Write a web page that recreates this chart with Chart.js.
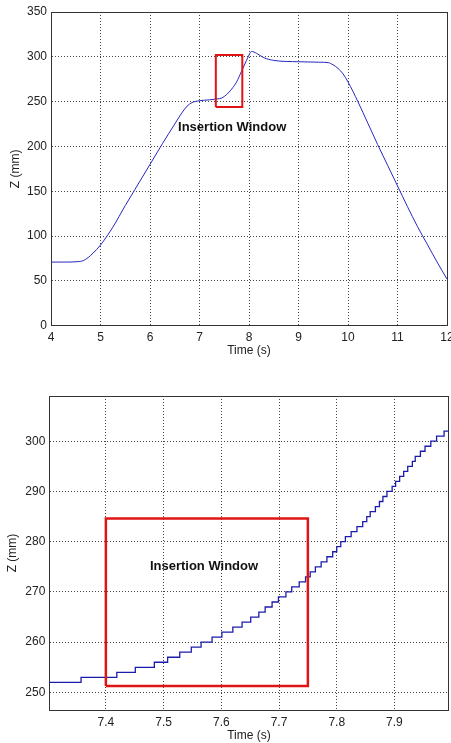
<!DOCTYPE html>
<html>
<head>
<meta charset="utf-8">
<script src="https://cdn.jsdelivr.net/npm/chart.js@4"></script>
<style>
  body { margin: 0; background: #fff; }
  canvas { position: absolute; left: 0; }
  #topChart { top: 0; }
  #bottomChart { top: 358px; }
</style>
</head>
<body>
<canvas id="topChart" width="451" height="358"></canvas>
<canvas id="bottomChart" width="451" height="385"></canvas>
<script>
    // top panel data: whole trajectory
    const topTime = [4.0, 4.3, 4.55, 4.65, 4.75, 4.85, 5.0, 5.25, 5.5, 5.75, 6.0, 6.25, 6.5, 6.65, 6.75, 6.85, 7.0, 7.2, 7.35, 7.45, 7.55, 7.65, 7.75, 7.85, 7.95, 8.0, 8.05, 8.15, 8.3, 8.5, 9.0, 9.4, 9.6, 9.7, 9.8, 9.9, 10.0, 10.2, 10.4, 10.6, 10.8, 11.0, 11.2, 11.4, 11.6, 11.8, 12.0];
    const topZ = [71, 71, 71.5, 72.5, 76, 81, 90, 110, 134, 157, 180, 203, 225, 238, 245, 249, 251, 252, 253, 254, 258, 264, 272, 284, 296, 302, 306, 304, 299, 296, 294.5, 294, 293.5, 291, 287, 281, 272, 250, 226, 202, 179, 156, 133, 111, 91, 71, 52];
    const topTimeTicks = [4, 5, 6, 7, 8, 9, 10, 11, 12];
    const topZTicks = [0, 50, 100, 150, 200, 250, 300, 350];
    const topBoxT = [7.33, 7.865, 7.865, 7.33, 7.33];
    const topBoxZ = [244, 244, 302, 302, 244];

    // bottom panel data: zoom on the insertion window (1 mm steps)
    const stepTime = [7.30, 7.357, 7.419, 7.451, 7.484, 7.507, 7.528, 7.548, 7.565, 7.584, 7.601, 7.620, 7.636, 7.651, 7.665, 7.676, 7.688, 7.699, 7.712, 7.722, 7.735, 7.746, 7.754, 7.763, 7.773, 7.783, 7.793, 7.800, 7.807, 7.815, 7.825, 7.835, 7.845, 7.852, 7.858, 7.867, 7.874, 7.880, 7.887, 7.896, 7.902, 7.909, 7.916, 7.923, 7.931, 7.936, 7.945, 7.953, 7.963, 7.973, 7.986, 7.994];
    const stepZ = [252, 253, 254, 255, 256, 257, 258, 259, 260, 261, 262, 263, 264, 265, 266, 267, 268, 269, 270, 271, 272, 273, 274, 275, 276, 277, 278, 279, 280, 281, 282, 283, 284, 285, 286, 287, 288, 289, 290, 291, 292, 293, 294, 295, 296, 297, 298, 299, 300, 301, 302, 302];
    const bottomTimeTicks = [7.4, 7.5, 7.6, 7.7, 7.8, 7.9];
    const bottomZTicks = [250, 260, 270, 280, 290, 300];
    const bottomBoxT = [7.4, 7.75, 7.75, 7.4, 7.4];
    const bottomBoxZ = [251.3, 251.3, 284.6, 284.6, 251.3];

    const font = { family: '"Liberation Sans", Arial, sans-serif', size: 12 };
    const gridStyle = { color: '#444', lineWidth: 1, drawTicks: false };
    // in v4 border.dash is what dots the grid lines, the axis line stays solid
    const axisBorder = { color: '#333', width: 1, dash: [1, 2] };

    function points(xs, ys) {
      return xs.map((v, i) => ({ x: v, y: ys[i] }));
    }

    // draws the "Insertion Window" text at a data position
    const windowLabel = {
      id: 'windowLabel',
      afterDatasetsDraw(chart, args, opts) {
        const ctx = chart.ctx;
        ctx.save();
        ctx.font = 'bold 13px "Liberation Sans", Arial, sans-serif';
        ctx.fillStyle = '#111';
        ctx.textAlign = 'center';
        ctx.textBaseline = 'middle';
        ctx.fillText(opts.text, chart.scales.x.getPixelForValue(opts.t), chart.scales.y.getPixelForValue(opts.z));
        ctx.restore();
      }
    };

    function makeConfig(s) {
      return {
        type: 'scatter',
        data: {
          datasets: [{
            data: points(s.boxT, s.boxZ),
            showLine: true,
            borderColor: '#e01414',
            borderWidth: s.boxWidth,
            pointRadius: 0,
            order: 0
          }, {
            data: points(s.lineT, s.lineZ),
            showLine: true,
            borderColor: s.lineColor,
            borderWidth: s.lineWidth,
            pointRadius: 0,
            stepped: s.stepped,
            cubicInterpolationMode: s.stepped ? 'default' : 'monotone',
            order: 1
          }]
        },
        options: {
          responsive: false,
          animation: false,
          layout: { padding: s.padding },
          plugins: {
            legend: { display: false },
            tooltip: { enabled: false },
            windowLabel: s.label
          },
          scales: {
            x: {
              type: 'linear',
              min: s.xMin,
              max: s.xMax,
              grid: gridStyle,
              border: axisBorder,
              ticks: { color: '#222', font: font, padding: 5, maxRotation: 0, callback: s.xFmt },
              afterBuildTicks: sc => { sc.ticks = s.xTicks.map(v => ({ value: v })); },
              afterFit: sc => { sc.height = s.xHeight; sc.paddingLeft = 0; sc.paddingRight = 0; },
              title: { display: true, text: 'Time (s)', color: '#222', font: font, padding: 0 }
            },
            y: {
              type: 'linear',
              min: s.yMin,
              max: s.yMax,
              grid: gridStyle,
              border: axisBorder,
              ticks: { color: '#222', font: font, padding: 4, callback: v => String(v) },
              afterBuildTicks: sc => { sc.ticks = s.yTicks.map(v => ({ value: v })); },
              afterFit: sc => { sc.width = s.yWidth; sc.paddingTop = 0; sc.paddingBottom = 0; },
              title: { display: true, text: 'Z (mm)', color: '#222', font: font, padding: 0 }
            },
            // box frame on the top and right sides
            xTop: {
              type: 'linear', position: 'top',
              grid: { display: false, drawTicks: false },
              border: { color: '#333', width: 1 },
              ticks: { display: false },
              afterFit: sc => { sc.height = 0; }
            },
            yRight: {
              type: 'linear', position: 'right',
              grid: { display: false, drawTicks: false },
              border: { color: '#333', width: 1 },
              ticks: { display: false },
              afterFit: sc => { sc.width = 0; }
            }
          }
        },
        plugins: [windowLabel]
      };
    }

    const topChart = new Chart(document.getElementById('topChart'), makeConfig({
      lineT: topTime, lineZ: topZ, lineColor: '#2828c0', lineWidth: 1, stepped: false,
      boxT: topBoxT, boxZ: topBoxZ, boxWidth: 2,
      xMin: 4, xMax: 12, xTicks: topTimeTicks, xFmt: v => String(v),
      yMin: 0, yMax: 350, yTicks: topZTicks,
      padding: { top: 12, right: 4, left: 8, bottom: 0 },
      yWidth: 43, xHeight: 32.3,
      label: { text: 'Insertion Window', t: 7.66, z: 221 }
    }));

    const bottomChart = new Chart(document.getElementById('bottomChart'), makeConfig({
      lineT: stepTime, lineZ: stepZ, lineColor: '#1c1caa', lineWidth: 1.3, stepped: true,
      boxT: bottomBoxT, boxZ: bottomBoxZ, boxWidth: 2.5,
      xMin: 7.302, xMax: 7.994, xTicks: bottomTimeTicks, xFmt: v => v.toFixed(1),
      yMin: 246.5, yMax: 309, yTicks: bottomZTicks,
      padding: { top: 38, right: 2.3, left: 5, bottom: 0 },
      yWidth: 44.3, xHeight: 33,
      label: { text: 'Insertion Window', t: 7.57, z: 275 }
    }));
</script>
</body>
</html>
